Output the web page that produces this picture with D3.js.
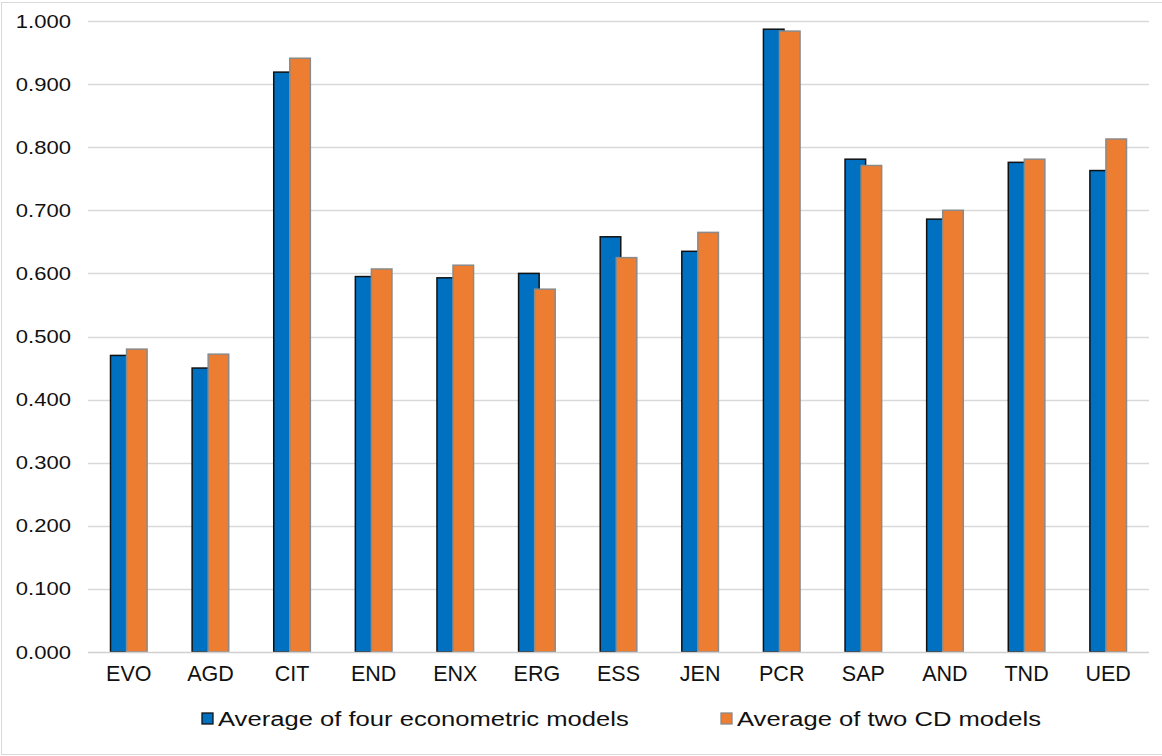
<!DOCTYPE html>
<html>
<head>
<meta charset="utf-8">
<script src="https://cdn.jsdelivr.net/npm/d3@7/dist/d3.min.js"></script>
<style>
  html, body { margin: 0; padding: 0; background: #fff; }
  svg text { font-family: "Liberation Sans", Arial, Helvetica, sans-serif; fill: #111; }
</style>
</head>
<body>
<svg id="chart" width="1162" height="756"></svg>
<script>
// Region codes along the x axis
const categories = ["EVO", "AGD", "CIT", "END", "ENX", "ERG", "ESS", "JEN", "PCR", "SAP", "AND", "TND", "UED"];

// Series values
const econometricAvg = [0.470, 0.450, 0.919, 0.595, 0.593, 0.600, 0.658, 0.635, 0.987, 0.781, 0.686, 0.776, 0.763];
const cdAvg          = [0.480, 0.472, 0.941, 0.607, 0.613, 0.575, 0.625, 0.665, 0.984, 0.771, 0.700, 0.781, 0.813];

const seriesNames = ["Average of four econometric models", "Average of two CD models"];

// Y axis tick values
const yTicks = [0, 0.1, 0.2, 0.3, 0.4, 0.5, 0.6, 0.7, 0.8, 0.9, 1.0];

const svg = d3.select("#chart");
const W = 1162, H = 756;
const plot = { left: 88, right: 1149, top: 21, bottom: 652 };

// Outer frame
svg.append("rect")
  .attr("x", 1.5).attr("y", 2.5)
  .attr("width", W - 1).attr("height", H - 4)
  .attr("fill", "none").attr("stroke", "#d9d9d9").attr("stroke-width", 1);

const x = d3.scaleBand().domain(categories).range([plot.left, plot.right]).padding(0);
const y = d3.scaleLinear().domain([0, 1]).range([plot.bottom, plot.top]);

// Gridlines
svg.append("g").selectAll("line")
  .data(yTicks.filter(t => t > 0))
  .join("line")
  .attr("x1", plot.left).attr("x2", plot.right)
  .attr("y1", d => Math.round(y(d)) + 0.5).attr("y2", d => Math.round(y(d)) + 0.5)
  .attr("stroke", "#d9d9d9").attr("stroke-width", 1.3);

// Y tick labels
svg.append("g").selectAll("text")
  .data(yTicks)
  .join("text")
  .attr("transform", d => `translate(71,${y(d) + 6.5}) scale(1.16,1)`)
  .attr("text-anchor", "end")
  .style("font-size", "19px")
  .text(d => d3.format(".3f")(d));

// Bars
const bw = x.bandwidth() * 0.252;
const overlap = bw * 0.22;
const groupW = 2 * bw - overlap;
const series = [
  { values: econometricAvg, fill: "#0070c0", stroke: "#111111", offset: 0 },
  { values: cdAvg,          fill: "#ed7d31", stroke: "#8a8a8a", offset: bw - overlap }
];

series.forEach(s => {
  svg.append("g").selectAll("rect")
    .data(categories)
    .join("rect")
    .attr("x", (c) => x(c) + x.bandwidth() / 2 - groupW / 2 + s.offset)
    .attr("y", (c, i) => y(s.values[i]))
    .attr("width", bw)
    .attr("height", (c, i) => y(0) - y(s.values[i]))
    .attr("fill", s.fill)
    .attr("stroke", s.stroke)
    .attr("stroke-width", 1.5);
});

// Baseline
svg.append("line")
  .attr("x1", plot.left).attr("x2", plot.right)
  .attr("y1", y(0) + 0.5).attr("y2", y(0) + 0.5)
  .attr("stroke", "#d0d0d0").attr("stroke-width", 1.5);

// Category labels
svg.append("g").selectAll("text")
  .data(categories)
  .join("text")
  .attr("x", c => x(c) + x.bandwidth() / 2)
  .attr("y", 681)
  .attr("text-anchor", "middle")
  .style("font-size", "21.5px")
  .text(c => c);

// Legend
const legendItems = [
  { name: seriesNames[0], fill: "#0070c0", stroke: "#111111", x: 202 },
  { name: seriesNames[1], fill: "#ed7d31", stroke: "#8a8a8a", x: 721 }
];
const lg = svg.append("g").selectAll("g").data(legendItems).join("g");
lg.append("rect")
  .attr("x", d => d.x).attr("y", 713)
  .attr("width", 11).attr("height", 11)
  .attr("fill", d => d.fill).attr("stroke", d => d.stroke).attr("stroke-width", 1.3);
lg.append("text")
  .attr("transform", d => `translate(${d.x + 16},${726}) scale(1.22,1)`)
  .style("font-size", "21px")
  .text(d => d.name);
</script>
</body>
</html>
